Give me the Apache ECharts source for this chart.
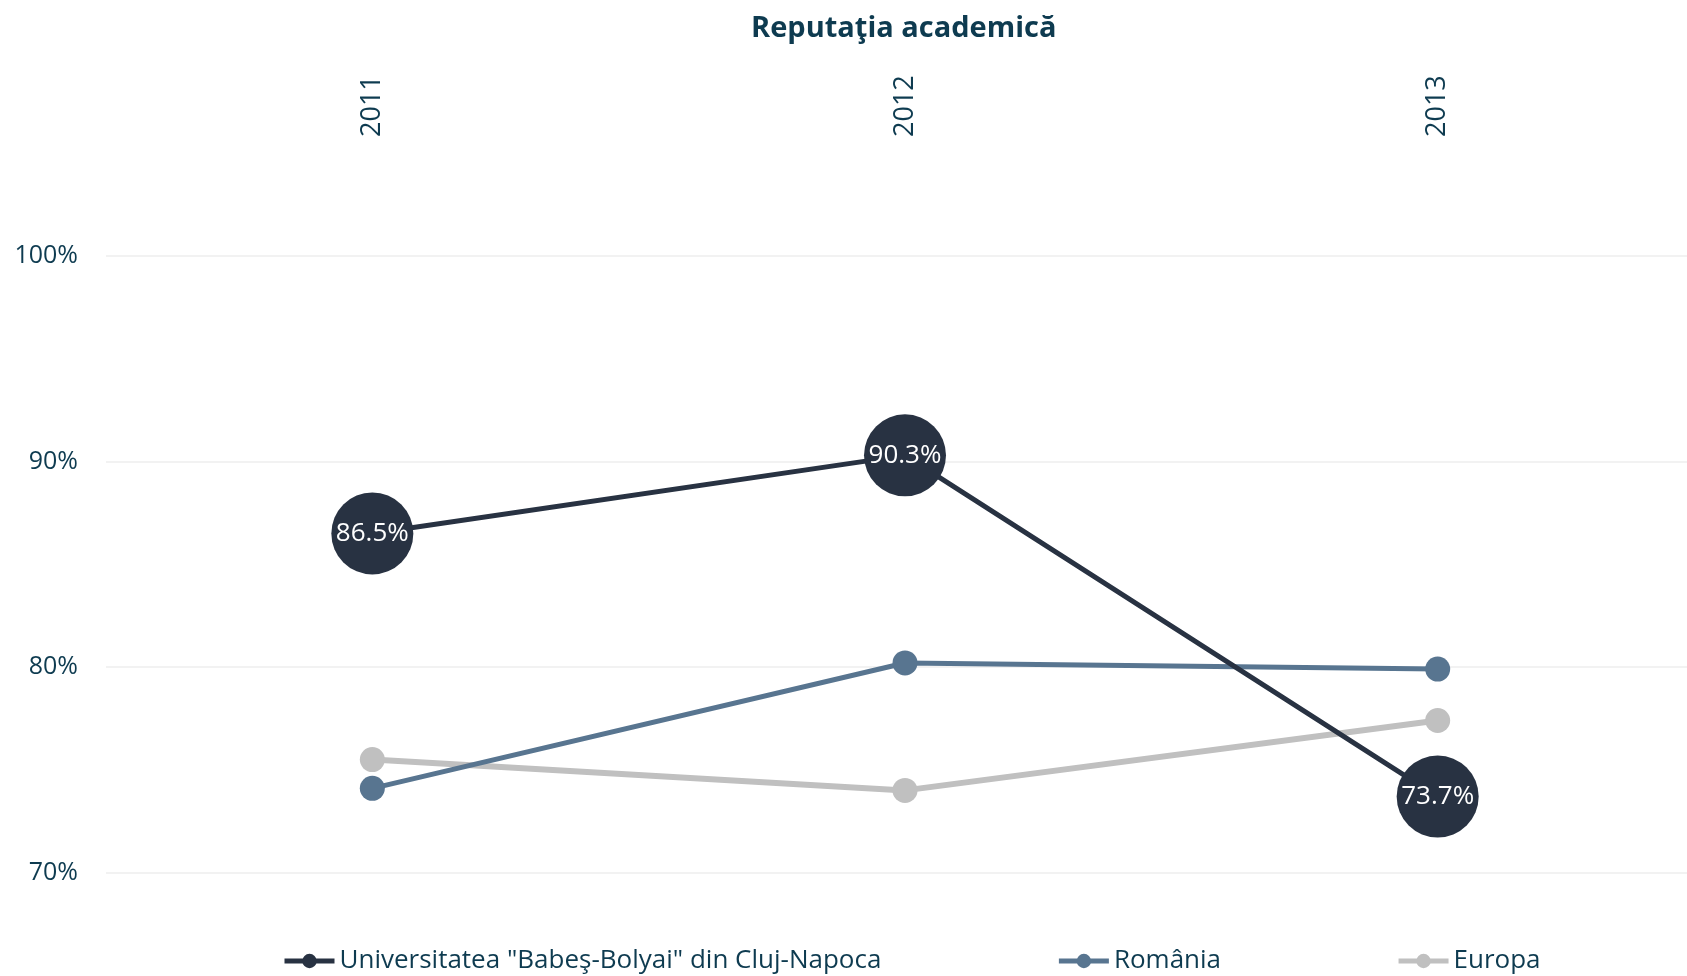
<!DOCTYPE html>
<html>
<head>
<meta charset="utf-8">
<script src="https://cdn.jsdelivr.net/npm/echarts@6/dist/echarts.min.js"></script>
<style>
html,body{margin:0;padding:0;background:#fff;overflow:hidden;}
#c{width:1704px;height:976px;}
</style>
</head>
<body>
<div id="c"></div>
<script>
const title = 'Reputaţia academică';
const years = ['2011', '2012', '2013'];
const seriesNames = ['Universitatea "Babeş-Bolyai" din Cluj-Napoca', 'România', 'Europa'];
const ubb = [86.5, 90.3, 73.7];
const romania = [74.1, 80.2, 79.9];
const europa = [75.5, 74.0, 77.4];
const yTicks = [70, 80, 90, 100];

const textColor = '#0e3b50';
const font = '"Open Sans", sans-serif';

const chart = echarts.init(document.getElementById('c'));
chart.setOption({
  backgroundColor: '#ffffff',
  animation: false,
  title: {
    text: title,
    left: 746,
    top: 9,
    textStyle: {fontFamily: font, fontWeight: 'bold', fontSize: 29, color: textColor}
  },
  legend: {
    left: 277,
    bottom: -3,
    itemWidth: 50,
    itemHeight: 18,
    itemGap: 175,
    data: seriesNames,
    lineStyle: {width: 5},
    textStyle: {fontFamily: font, fontSize: 26, color: textColor}
  },
  grid: {left: 106, right: 0, top: 256, bottom: 103.4, containLabel: false},
  xAxis: {
    type: 'category',
    position: 'top',
    data: years,
    boundaryGap: true,
    axisLine: {show: false},
    axisTick: {show: false},
    axisLabel: {rotate: -90, margin: 119, fontFamily: font, fontSize: 27, color: textColor}
  },
  yAxis: {
    type: 'value',
    min: yTicks[0],
    max: yTicks[yTicks.length - 1],
    interval: 10,
    axisLine: {show: false},
    axisTick: {show: false},
    splitLine: {lineStyle: {color: '#eeeeee', width: 1.5}},
    axisLabel: {margin: 28, fontFamily: font, fontSize: 25, color: textColor, formatter: v => v + '%'}
  },
  series: [
    {
      name: seriesNames[2], type: 'line', data: europa,
      symbol: 'circle', symbolSize: 25,
      itemStyle: {color: '#c0c0c0'},
      lineStyle: {color: '#c0c0c0', width: 6},
      z: 2
    },
    {
      name: seriesNames[1], type: 'line', data: romania,
      symbol: 'circle', symbolSize: 25,
      itemStyle: {color: '#587590'},
      lineStyle: {color: '#587590', width: 5},
      z: 3
    },
    {
      name: seriesNames[0], type: 'line', data: ubb,
      symbol: 'circle', symbolSize: 82,
      itemStyle: {color: '#283242'},
      lineStyle: {color: '#283242', width: 5},
      label: {show: true, position: 'inside', fontFamily: font, fontSize: 26, color: '#ffffff',
        formatter: p => p.value.toFixed(1) + '%'},
      z: 4
    }
  ]
});
</script>
</body>
</html>
